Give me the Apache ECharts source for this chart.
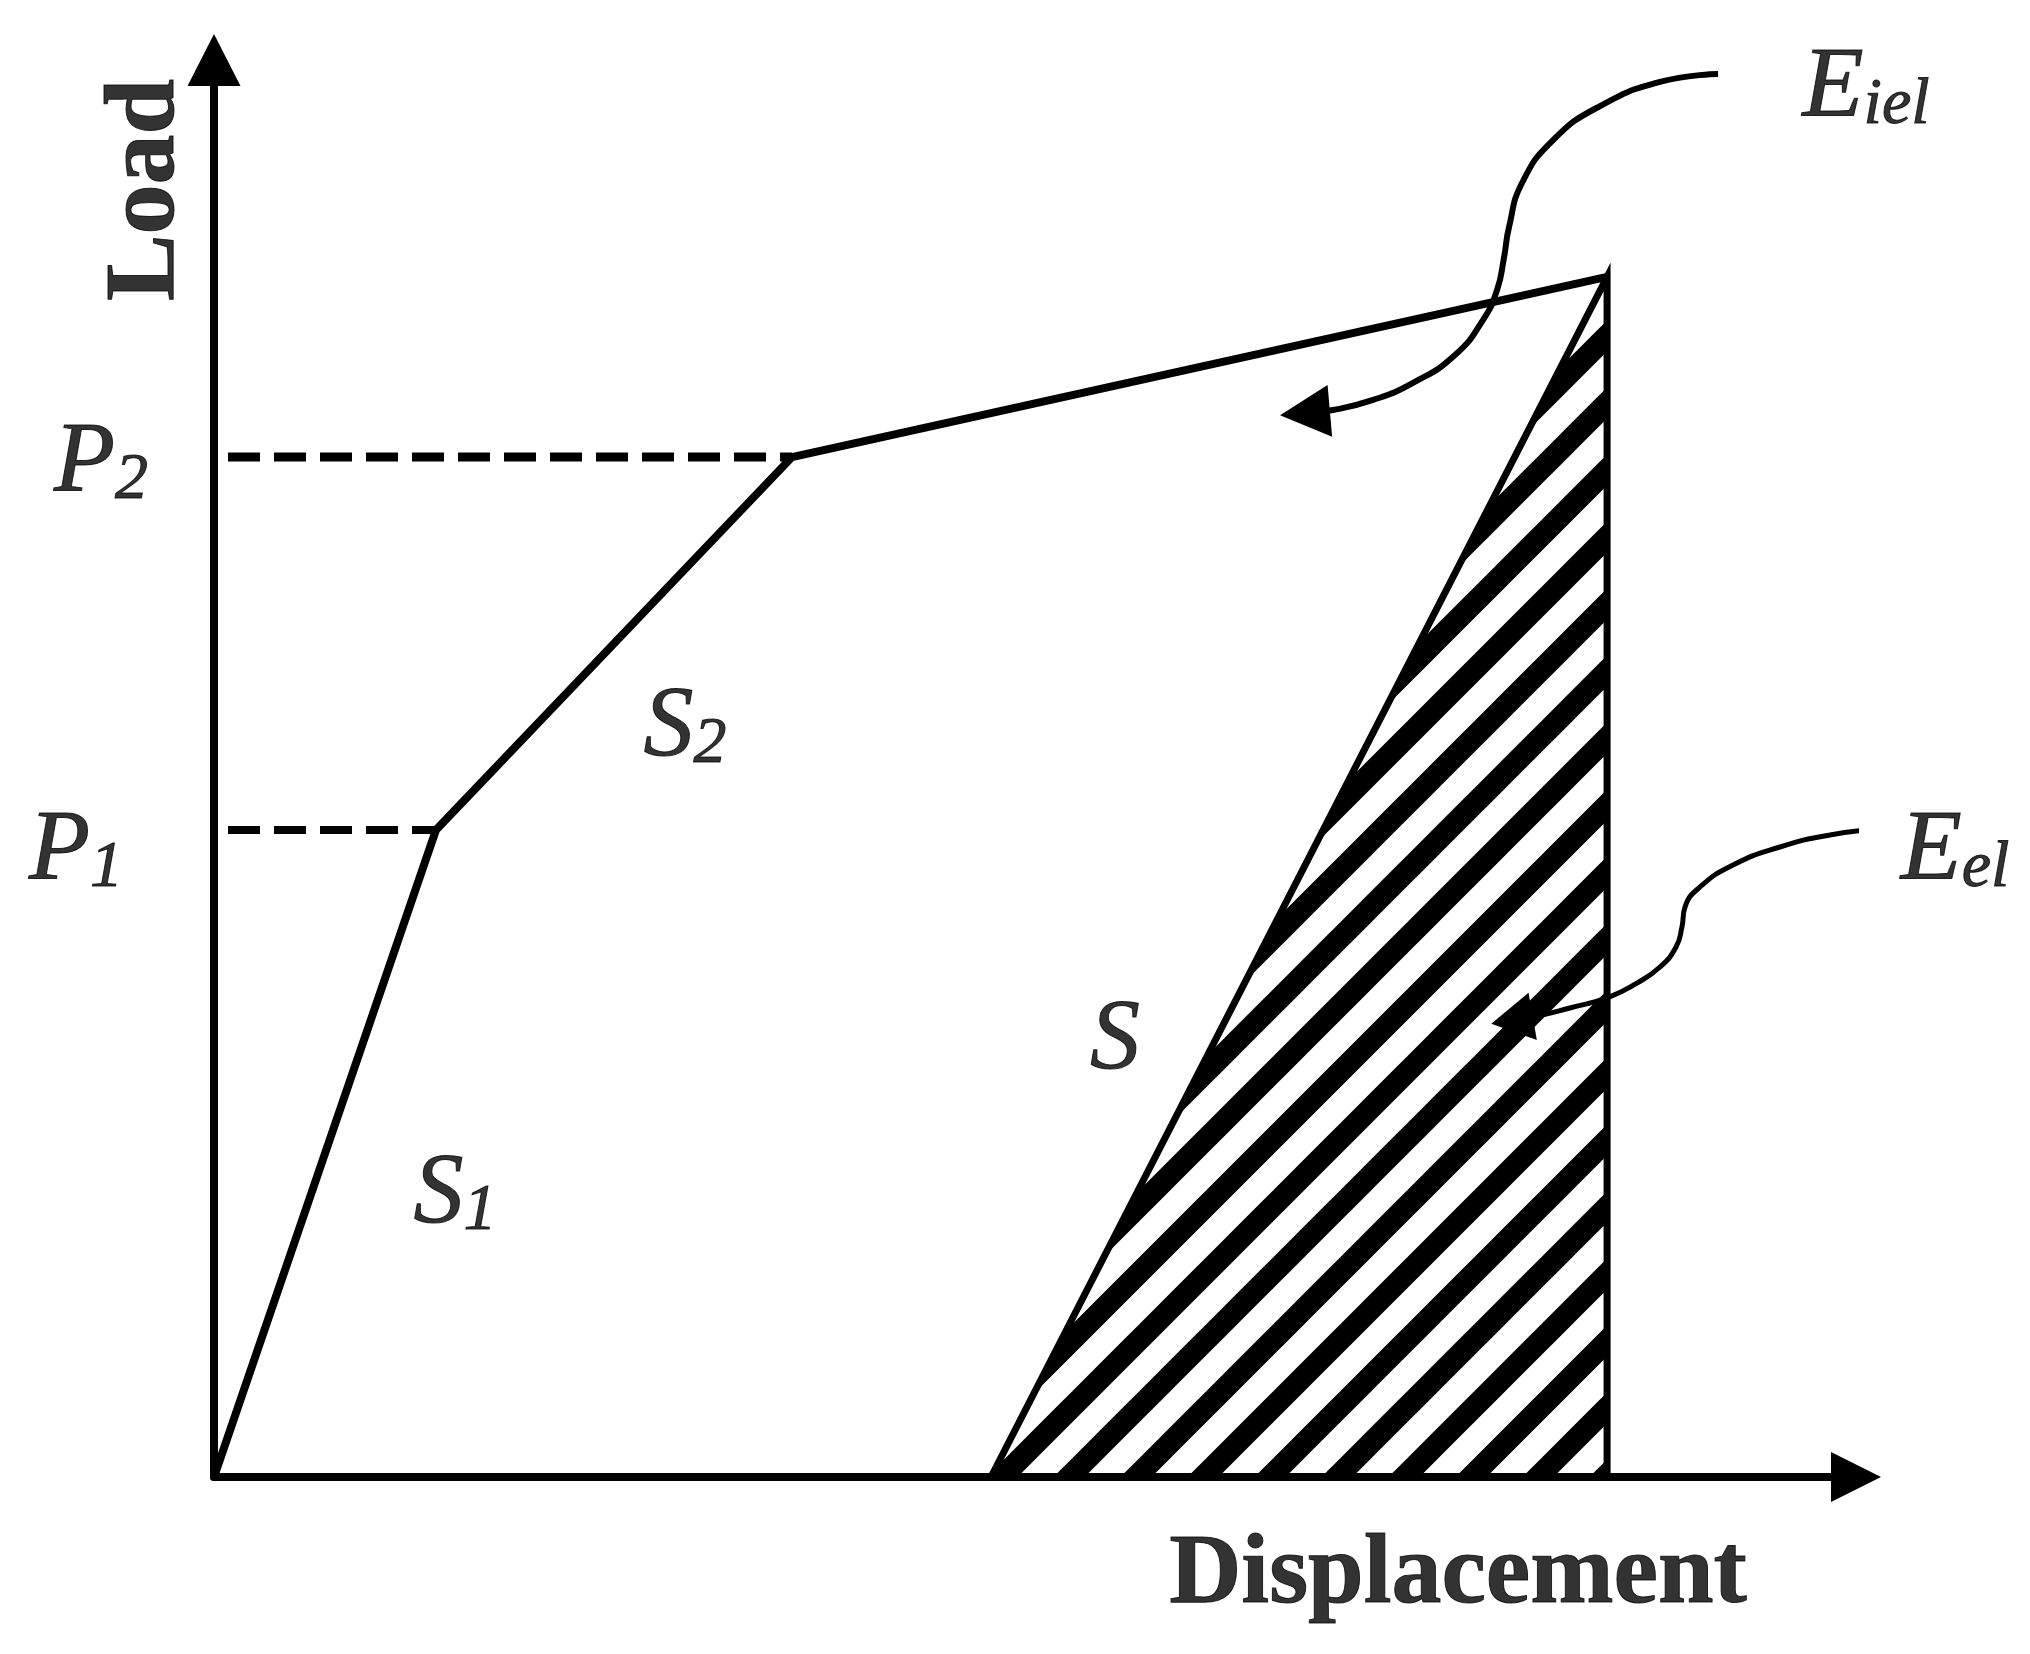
<!DOCTYPE html>
<html>
<head>
<meta charset="utf-8">
<script src="https://cdn.jsdelivr.net/npm/echarts@6/dist/echarts.min.js"></script>
<style>
html, body { margin: 0; padding: 0; background: #fff; }
#main { width: 2030px; height: 1654px; }
</style>
</head>
<body>
<div id="main"></div>
<script>
// loading path: origin -> P1 -> P2 -> peak
var loadX = [0, 1.352, 3.520, 8.484];
var loadY = [0, 4.566, 7.198, 8.469];
// unloading line meets the displacement axis here
var unloadX = 4.732;
var p1 = 4.566, p2 = 7.198;

// leader curves, points (last point = arrow head)
var eielX = [9.160, 8.806, 8.441, 8.155, 7.966, 7.887, 7.856, 7.814, 7.728, 7.558, 7.302, 7.059, 6.815, 6.644];
var eielY = [9.901, 9.845, 9.675, 9.435, 9.132, 8.822, 8.603, 8.377, 8.165, 7.918, 7.721, 7.601, 7.530, 7.509];
var eelX = [10.158, 9.842, 9.537, 9.251, 9.050, 8.959, 8.940, 8.904, 8.806, 8.666, 8.496, 8.258, 8.033, 7.905];
var eelY = [4.573, 4.531, 4.446, 4.319, 4.164, 4.023, 3.881, 3.740, 3.599, 3.486, 3.387, 3.310, 3.246, 3.225];

// text annotations
var annText = ['{m|P}{s|2}', '{m|P}{s|1}', '{m|S}{s|2}', '{m|S}{s|1}', '{m|S}',
  '{m|E}{s|iel}', '{m|E}{s|el}', '{b|Load}', '{b|Displacement}'];
var annX = [-0.688, -0.840, 2.868, 1.468, 5.487, 10.061, 10.603, -0.408, 7.576];
var annY = [7.150, 4.411, 5.286, 1.990, 3.080, 9.800, 4.411, 9.083, -0.700];

var serif = "'Liberation Serif', 'Times New Roman', serif";

function zip(xs, ys) {
  return xs.map(function (x, i) { return [x, ys[i]]; });
}

// diagonal stripe pattern for the elastic energy area
function stripes() {
  var p = 67;
  var c = document.createElement('canvas');
  c.width = p; c.height = p;
  var ctx = c.getContext('2d');
  ctx.fillStyle = '#fff';
  ctx.fillRect(0, 0, p, p);
  ctx.strokeStyle = '#000';
  ctx.lineWidth = 22;
  [-p, 0, p].forEach(function (k) {
    ctx.beginPath();
    ctx.moveTo(k - 30, p + 30);
    ctx.lineTo(k + p + 30, -30);
    ctx.stroke();
  });
  return c;
}

function arrowData(xs, ys, size, rot) {
  var d = zip(xs, ys);
  var n = d.length - 1;
  d[n] = { value: d[n], symbol: 'triangle', symbolSize: size, symbolRotate: rot };
  return d;
}

var chart = echarts.init(document.getElementById('main'));

var option = {
  backgroundColor: '#fff',
  animation: false,
  grid: { left: 214, top: 60, right: 174, bottom: 177, outerBoundsMode: 'none' },
  xAxis: {
    type: 'value', min: 0, max: 10, z: 5,
    axisLine: { lineStyle: { color: '#000', width: 8 }, symbol: ['none', 'triangle'], symbolSize: [50, 50] },
    axisTick: { show: false }, axisLabel: { show: false }, splitLine: { show: false }
  },
  yAxis: {
    type: 'value', min: 0, max: 10, z: 5,
    axisLine: { lineStyle: { color: '#000', width: 8 }, symbol: ['none', 'triangle'], symbolSize: [53, 52] },
    axisTick: { show: false }, axisLabel: { show: false }, splitLine: { show: false }
  },
  series: [
    {
      name: 'elastic', type: 'line', clip: false, symbol: 'none',
      data: [[unloadX, 0], [loadX[3], loadY[3]], [loadX[3], 0]],
      lineStyle: { color: '#000', width: 7, join: 'miter' },
      areaStyle: { color: { image: stripes(), repeat: 'repeat' }, opacity: 1 }
    },
    {
      name: 'load', type: 'line', clip: false, symbol: 'none',
      data: zip(loadX, loadY),
      lineStyle: { color: '#000', width: 8, join: 'miter' }
    },
    {
      name: 'P1', type: 'line', clip: false, symbol: 'none',
      data: [[0, p1], [loadX[1], p1]],
      lineStyle: { color: '#000', width: 8, type: [32, 14], dashOffset: 32 }
    },
    {
      name: 'P2', type: 'line', clip: false, symbol: 'none',
      data: [[0, p2], [loadX[2], p2]],
      lineStyle: { color: '#000', width: 9, type: [32, 14], dashOffset: 32 }
    },
    {
      name: 'Eiel', type: 'line', clip: false, symbol: 'none', smooth: 0.5,
      data: arrowData(eielX, eielY, [52, 50], 95),
      itemStyle: { color: '#000' },
      lineStyle: { color: '#000', width: 6 }
    },
    {
      name: 'Eel', type: 'line', clip: false, symbol: 'none', smooth: 0.5,
      data: arrowData(eelX, eelY, [48, 42], 100),
      itemStyle: { color: '#000' },
      lineStyle: { color: '#000', width: 5 }
    },
    {
      name: 'text', type: 'scatter', clip: false, symbolSize: 0, z: 10,
      data: zip(annX, annY).map(function (v, i) {
        return { value: v, label: { rotate: annText[i] === '{b|Load}' ? 90 : 0 } };
      }),
      label: {
        show: true, position: 'inside', align: 'center', verticalAlign: 'middle',
        color: '#000',
        formatter: function (p) { return annText[p.dataIndex]; },
        rich: {
          m: { fontFamily: serif, fontStyle: 'italic', fontSize: 100, color: '#000', textBorderColor: '#000', textBorderWidth: 1 },
          s: { fontFamily: serif, fontStyle: 'italic', fontSize: 66, color: '#000', textBorderColor: '#000', textBorderWidth: 1, verticalAlign: 'bottom' },
          b: { fontFamily: serif, fontWeight: 'bold', fontSize: 100, color: '#000', textBorderColor: '#000', textBorderWidth: 1 }
        }
      }
    }
  ]
};

chart.setOption(option);
</script>
</body>
</html>
